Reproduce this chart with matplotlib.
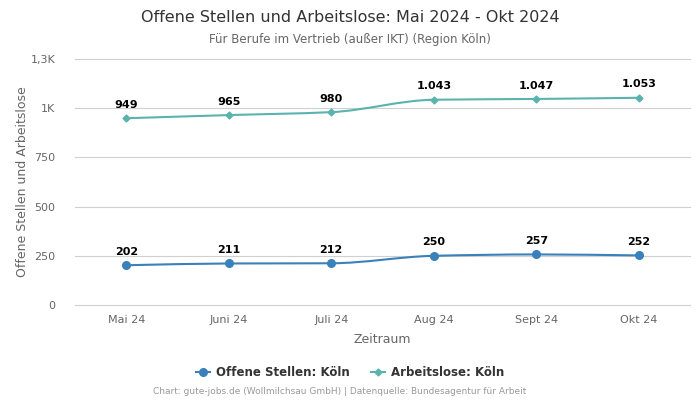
import matplotlib
matplotlib.use("Agg")
import matplotlib.pyplot as plt
import numpy as np
from matplotlib.path import Path
from matplotlib.patches import PathPatch
from matplotlib.lines import Line2D

months = ["Mai 24", "Juni 24", "Juli 24", "Aug 24", "Sept 24", "Okt 24"]
offene_stellen = [202, 211, 212, 250, 257, 252]
arbeitslose = [949, 965, 980, 1043, 1047, 1053]
y_ticks = [0, 250, 500, 750, 1000, 1250]
y_tick_labels = ["0", "250", "500", "750", "1K", "1,3K"]

C_OS = "#3a80ba"
C_AL = "#5bb3ad"


def monotone_path(x, y):
    # monotone cubic hermite -> bezier segments
    x = np.asarray(x, float)
    y = np.asarray(y, float)
    h = np.diff(x)
    d = np.diff(y) / h
    m = np.zeros_like(y)
    m[0], m[-1] = d[0], d[-1]
    for i in range(1, len(y) - 1):
        if d[i - 1] * d[i] <= 0:
            m[i] = 0
        else:
            m[i] = 2 / (1 / d[i - 1] + 1 / d[i])
    verts = [(x[0], y[0])]
    codes = [Path.MOVETO]
    for i in range(len(x) - 1):
        verts += [(x[i] + h[i] / 3, y[i] + m[i] * h[i] / 3),
                  (x[i + 1] - h[i] / 3, y[i + 1] - m[i + 1] * h[i] / 3),
                  (x[i + 1], y[i + 1])]
        codes += [Path.CURVE4] * 3
    return Path(verts, codes)


fig = plt.figure(figsize=(7, 4), dpi=100)
ax = fig.add_axes([75 / 700, 95 / 400, 615 / 700, 246 / 400])

xs = np.arange(len(months))
for vals, color, marker, ms in [(offene_stellen, C_OS, "o", 5.5),
                                (arbeitslose, C_AL, "D", 3.5)]:
    ax.add_patch(PathPatch(monotone_path(xs, vals), fill=False,
                           edgecolor=color, linewidth=1.5, zorder=3))
    ax.plot(xs, vals, linestyle="none", marker=marker, markersize=ms,
            color=color, zorder=4)
    for x, v in zip(xs, vals):
        lbl = f"{v:,}".replace(",", ".")
        ax.annotate(lbl, (x, v), xytext=(0, 6), textcoords="offset points",
                    ha="center", va="bottom", fontsize=8, fontweight="bold",
                    color="black")

ax.set_xlim(-0.5, len(months) - 0.5)
ax.set_ylim(0, 1250)
ax.set_xticks(xs)
ax.set_xticklabels(months)
ax.set_yticks(y_ticks)
ax.set_yticklabels(y_tick_labels)
ax.tick_params(axis="both", length=0, labelsize=8, labelcolor="#666666")
ax.tick_params(axis="x", pad=7)
ax.tick_params(axis="y", pad=14)
ax.grid(axis="y", color="#d0d0d0", linewidth=0.8)
for gl in ax.get_ygridlines():
    gl.set_clip_on(False)
ax.set_axisbelow(True)
for s in ax.spines.values():
    s.set_visible(False)

ax.set_xlabel("Zeitraum", fontsize=9, color="#666666", labelpad=6)
ax.set_ylabel("Offene Stellen und Arbeitslose", fontsize=9, color="#666666",
              labelpad=1)

fig.text(0.5, 1 - 17 / 400, "Offene Stellen und Arbeitslose: Mai 2024 - Okt 2024",
         ha="center", va="center", fontsize=11.5, color="#333333")
fig.text(0.5, 1 - 39 / 400, "Für Berufe im Vertrieb (außer IKT) (Region Köln)",
         ha="center", va="center", fontsize=8.5, color="#666666")

handles = [Line2D([], [], color=C_OS, marker="o", markersize=5.5, linewidth=1.5),
           Line2D([], [], color=C_AL, marker="D", markersize=3.5, linewidth=1.5)]
leg = fig.legend(handles, ["Offene Stellen: Köln", "Arbeitslose: Köln"],
                 loc="center", bbox_to_anchor=(0.5, 1 - 373 / 400), ncol=2,
                 frameon=False, handlelength=1.2, handletextpad=0.5,
                 columnspacing=1.8, prop={"size": 8.5, "weight": "bold"})
for t in leg.get_texts():
    t.set_color("#333333")

fig.text(340 / 700, 1 - 392 / 400,
         "Chart: gute-jobs.de (Wollmilchsau GmbH) | Datenquelle: Bundesagentur für Arbeit",
         ha="center", va="center", fontsize=6.5, color="#999999")

fig.savefig("out.png", dpi=100)
